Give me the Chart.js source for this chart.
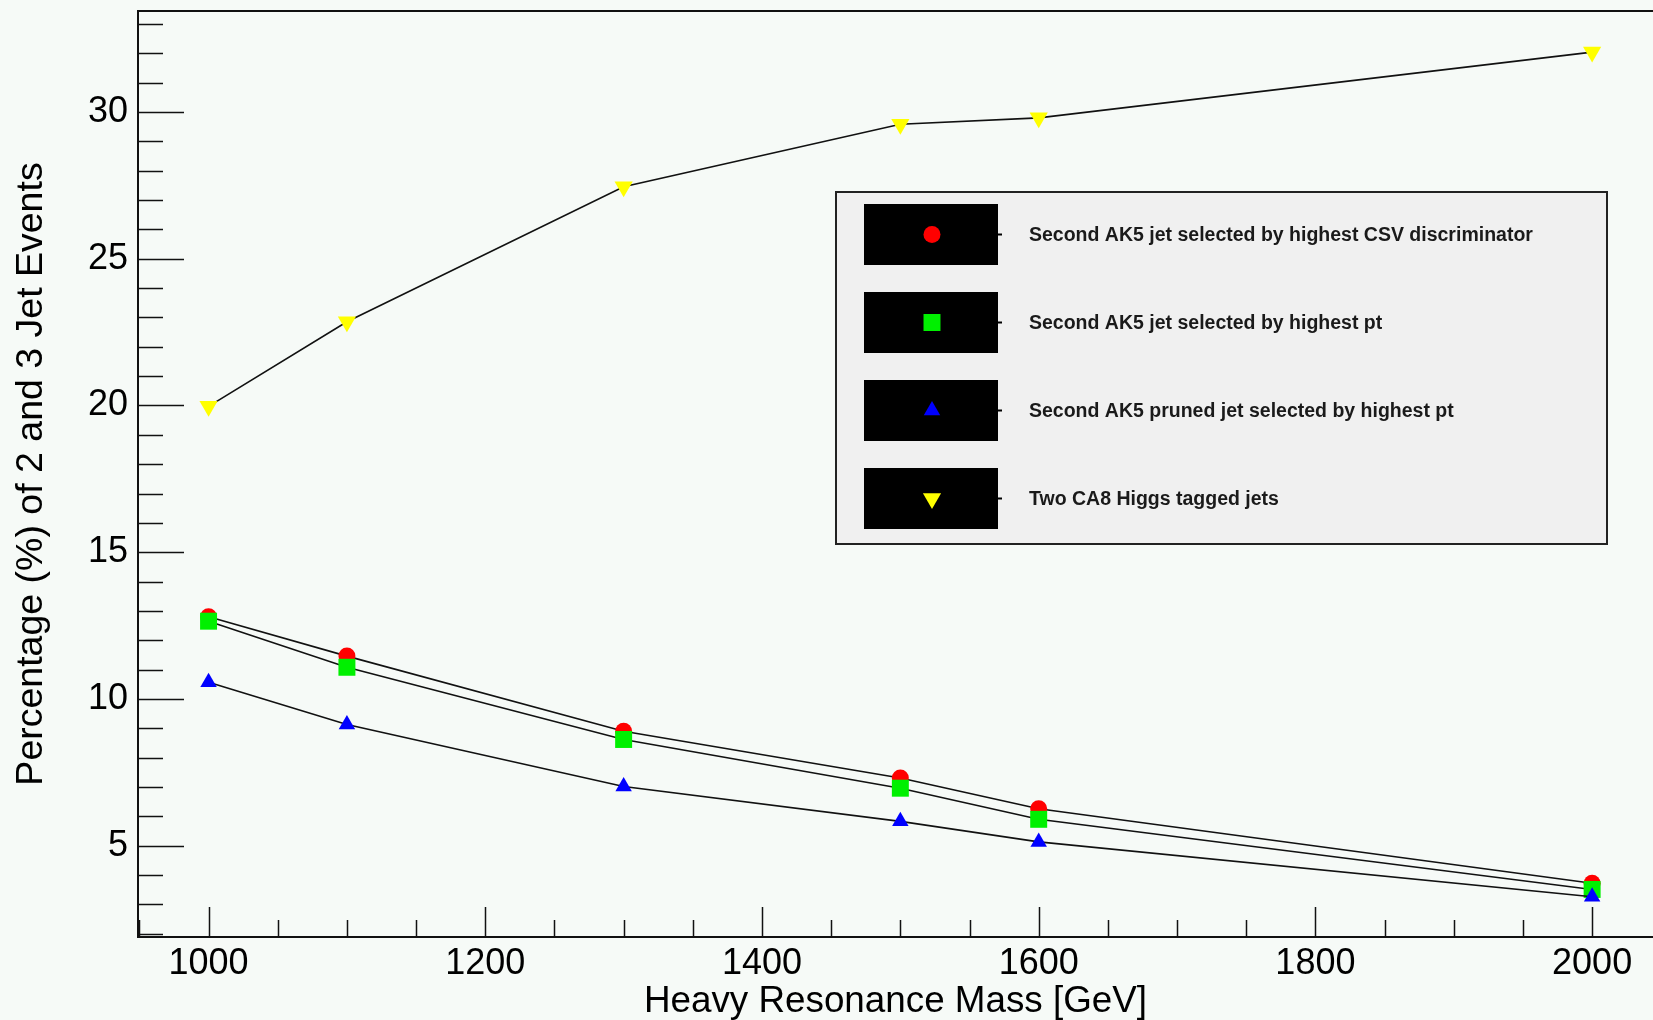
<!DOCTYPE html>
<html lang="en">
<head>
  <meta charset="UTF-8">
  <title>Heavy Resonance Mass</title>
  <script src="https://cdn.jsdelivr.net/npm/chart.js@4.4.2/dist/chart.umd.min.js"></script>
  <style>
    html, body { margin: 0; padding: 0; background: #f6faf7; overflow: hidden; }
    canvas { display: block; }
  </style>
</head>
<body>
<canvas id="myChart" width="1653" height="1020"></canvas>
<script>
// data
const masses = [1000, 1100, 1300, 1500, 1600, 2000];
const csvPct = [12.8, 11.46, 8.9, 7.31, 6.26, 3.72];
const ptPct = [12.65, 11.08, 8.62, 6.96, 5.9, 3.51];
const prunedPct = [10.57, 9.13, 7.02, 5.83, 5.13, 3.26];
const higgsPct = [19.97, 22.85, 27.45, 29.58, 29.8, 32.04];

const seriesNames = [
  'Second AK5 jet selected by highest CSV discriminator',
  'Second AK5 jet selected by highest pt',
  'Second AK5 pruned jet selected by highest pt',
  'Two CA8 Higgs tagged jets'
];
const xTickValues = [1000, 1200, 1400, 1600, 1800, 2000];
const yTickValues = [5, 10, 15, 20, 25, 30];

const FONT = '"Liberation Sans", Arial, Helvetica, sans-serif';

function pts(ys) {
  return masses.map((m, i) => ({ x: m, y: ys[i] }));
}

function series(label, ys, color, style, radius, rotation, order) {
  return {
    label: label,
    data: pts(ys),
    showLine: true,
    borderColor: '#111',
    borderWidth: 1.6,
    pointStyle: style,
    pointRadius: radius,
    pointRotation: rotation,
    pointBackgroundColor: color,
    pointBorderColor: color,
    pointBorderWidth: 0,
    order: order,
    tension: 0
  };
}

// ROOT-style inner tick marks + top frame line
const frameTicks = {
  id: 'frameTicks',
  beforeDatasetsDraw(chart) {
    const ctx = chart.ctx;
    const a = chart.chartArea;
    const xs = chart.scales.x, ys = chart.scales.y;
    ctx.save();
    ctx.strokeStyle = '#111';
    ctx.lineWidth = 1.5;
    ctx.beginPath();
    for (let v = 950; v <= 2000; v += 50) {
      const px = Math.round(xs.getPixelForValue(v)) + 0.5;
      if (px <= a.left + 1) continue;
      const len = (v % 200 === 0) ? 30 : 17;
      ctx.moveTo(px, a.bottom);
      ctx.lineTo(px, a.bottom - len);
    }
    for (let v = 2; v <= 33; v += 1) {
      const py = Math.round(ys.getPixelForValue(v)) + 0.5;
      const len = (v % 5 === 0) ? 46 : 25;
      ctx.moveTo(a.left, py);
      ctx.lineTo(a.left + len, py);
    }
    ctx.stroke();
    ctx.lineWidth = 2;
    ctx.beginPath();
    ctx.moveTo(a.left, a.top);
    ctx.lineTo(a.right, a.top);
    ctx.stroke();
    ctx.restore();
  }
};

// legend box with black entry boxes
const boxLegend = {
  id: 'boxLegend',
  afterDraw(chart) {
    const ctx = chart.ctx;
    const sets = [0, 1, 2, 3].map(i => chart.data.datasets[i]);
    ctx.save();
    ctx.fillStyle = '#f0f0f0';
    ctx.fillRect(836, 192, 771, 352);
    ctx.strokeStyle = '#222';
    ctx.lineWidth = 2;
    ctx.strokeRect(836, 192, 771, 352);
    const rows = [234.5, 322.5, 410.5, 498.5];
    ctx.font = 'bold 19.5px ' + FONT;
    ctx.textBaseline = 'middle';
    ctx.textAlign = 'left';
    sets.forEach((ds, i) => {
      const cy = rows[i];
      ctx.fillStyle = '#000';
      ctx.fillRect(864, cy - 30.5, 134, 61);
      ctx.strokeStyle = '#000';
      ctx.lineWidth = 2;
      ctx.beginPath();
      ctx.moveTo(998, cy);
      ctx.lineTo(1002, cy);
      ctx.stroke();
      ctx.fillStyle = ds.pointBackgroundColor;
      ctx.strokeStyle = ds.pointBackgroundColor;
      Chart.helpers.drawPoint(ctx, {
        pointStyle: ds.pointStyle,
        radius: ds.pointRadius,
        rotation: ds.pointRotation,
        borderWidth: 0
      }, 932, cy);
      ctx.fillStyle = '#1a1a1a';
      ctx.fillText(ds.label, 1029, cy + 1);
    });
    ctx.restore();
  }
};

const ctx = document.getElementById('myChart').getContext('2d');
new Chart(ctx, {
  type: 'line',
  data: {
    datasets: [
      series(seriesNames[0], csvPct, '#ff0000', 'circle', 8.5, 0, 4),
      series(seriesNames[1], ptPct, '#00f000', 'rect', 12, 0, 3),
      series(seriesNames[2], prunedPct, '#0000ff', 'triangle', 9.5, 0, 2),
      series(seriesNames[3], higgsPct, '#ffff00', 'triangle', 10.5, 180, 1)
    ]
  },
  options: {
    responsive: false,
    animation: false,
    devicePixelRatio: 1,
    layout: { autoPadding: false, padding: { top: 11, right: 0, bottom: 0, left: 0 } },
    plugins: {
      legend: { display: false },
      tooltip: { enabled: false }
    },
    scales: {
      x: {
        type: 'linear',
        min: 949,
        max: 2044,
        afterFit: s => {
          s.height = 83;
          s.paddingLeft = 0;
          s.paddingRight = 0;
        },
        afterBuildTicks: s => { s.ticks = xTickValues.map(v => ({ value: v })); },
        grid: { display: false, drawTicks: false },
        border: { display: true, color: '#111', width: 2 },
        ticks: {
          color: '#000',
          padding: 9,
          maxRotation: 0,
          autoSkip: false,
          callback: v => String(v),
          font: { family: FONT, size: 36, lineHeight: 1 }
        },
        title: {
          display: true,
          text: 'Heavy Resonance Mass [GeV]',
          color: '#000',
          padding: { top: 0, bottom: 0 },
          font: { family: FONT, size: 36.8, lineHeight: 1 }
        }
      },
      y: {
        type: 'linear',
        min: 1.89,
        max: 33.44,
        afterFit: s => {
          s.width = 138;
          s.paddingTop = 0;
          s.paddingBottom = 0;
        },
        afterBuildTicks: s => { s.ticks = yTickValues.map(v => ({ value: v })); },
        grid: { display: false, drawTicks: false },
        border: { display: true, color: '#111', width: 2 },
        ticks: {
          color: '#000',
          padding: 10,
          autoSkip: false,
          callback: v => String(v),
          font: { family: FONT, size: 36, lineHeight: 1 }
        },
        title: {
          display: true,
          text: 'Percentage (%) of 2 and 3 Jet Events',
          color: '#000',
          padding: { top: 13, bottom: 0 },
          font: { family: FONT, size: 37.5, lineHeight: 1 }
        }
      }
    }
  },
  plugins: [frameTicks, boxLegend]
});
</script>
</body>
</html>
